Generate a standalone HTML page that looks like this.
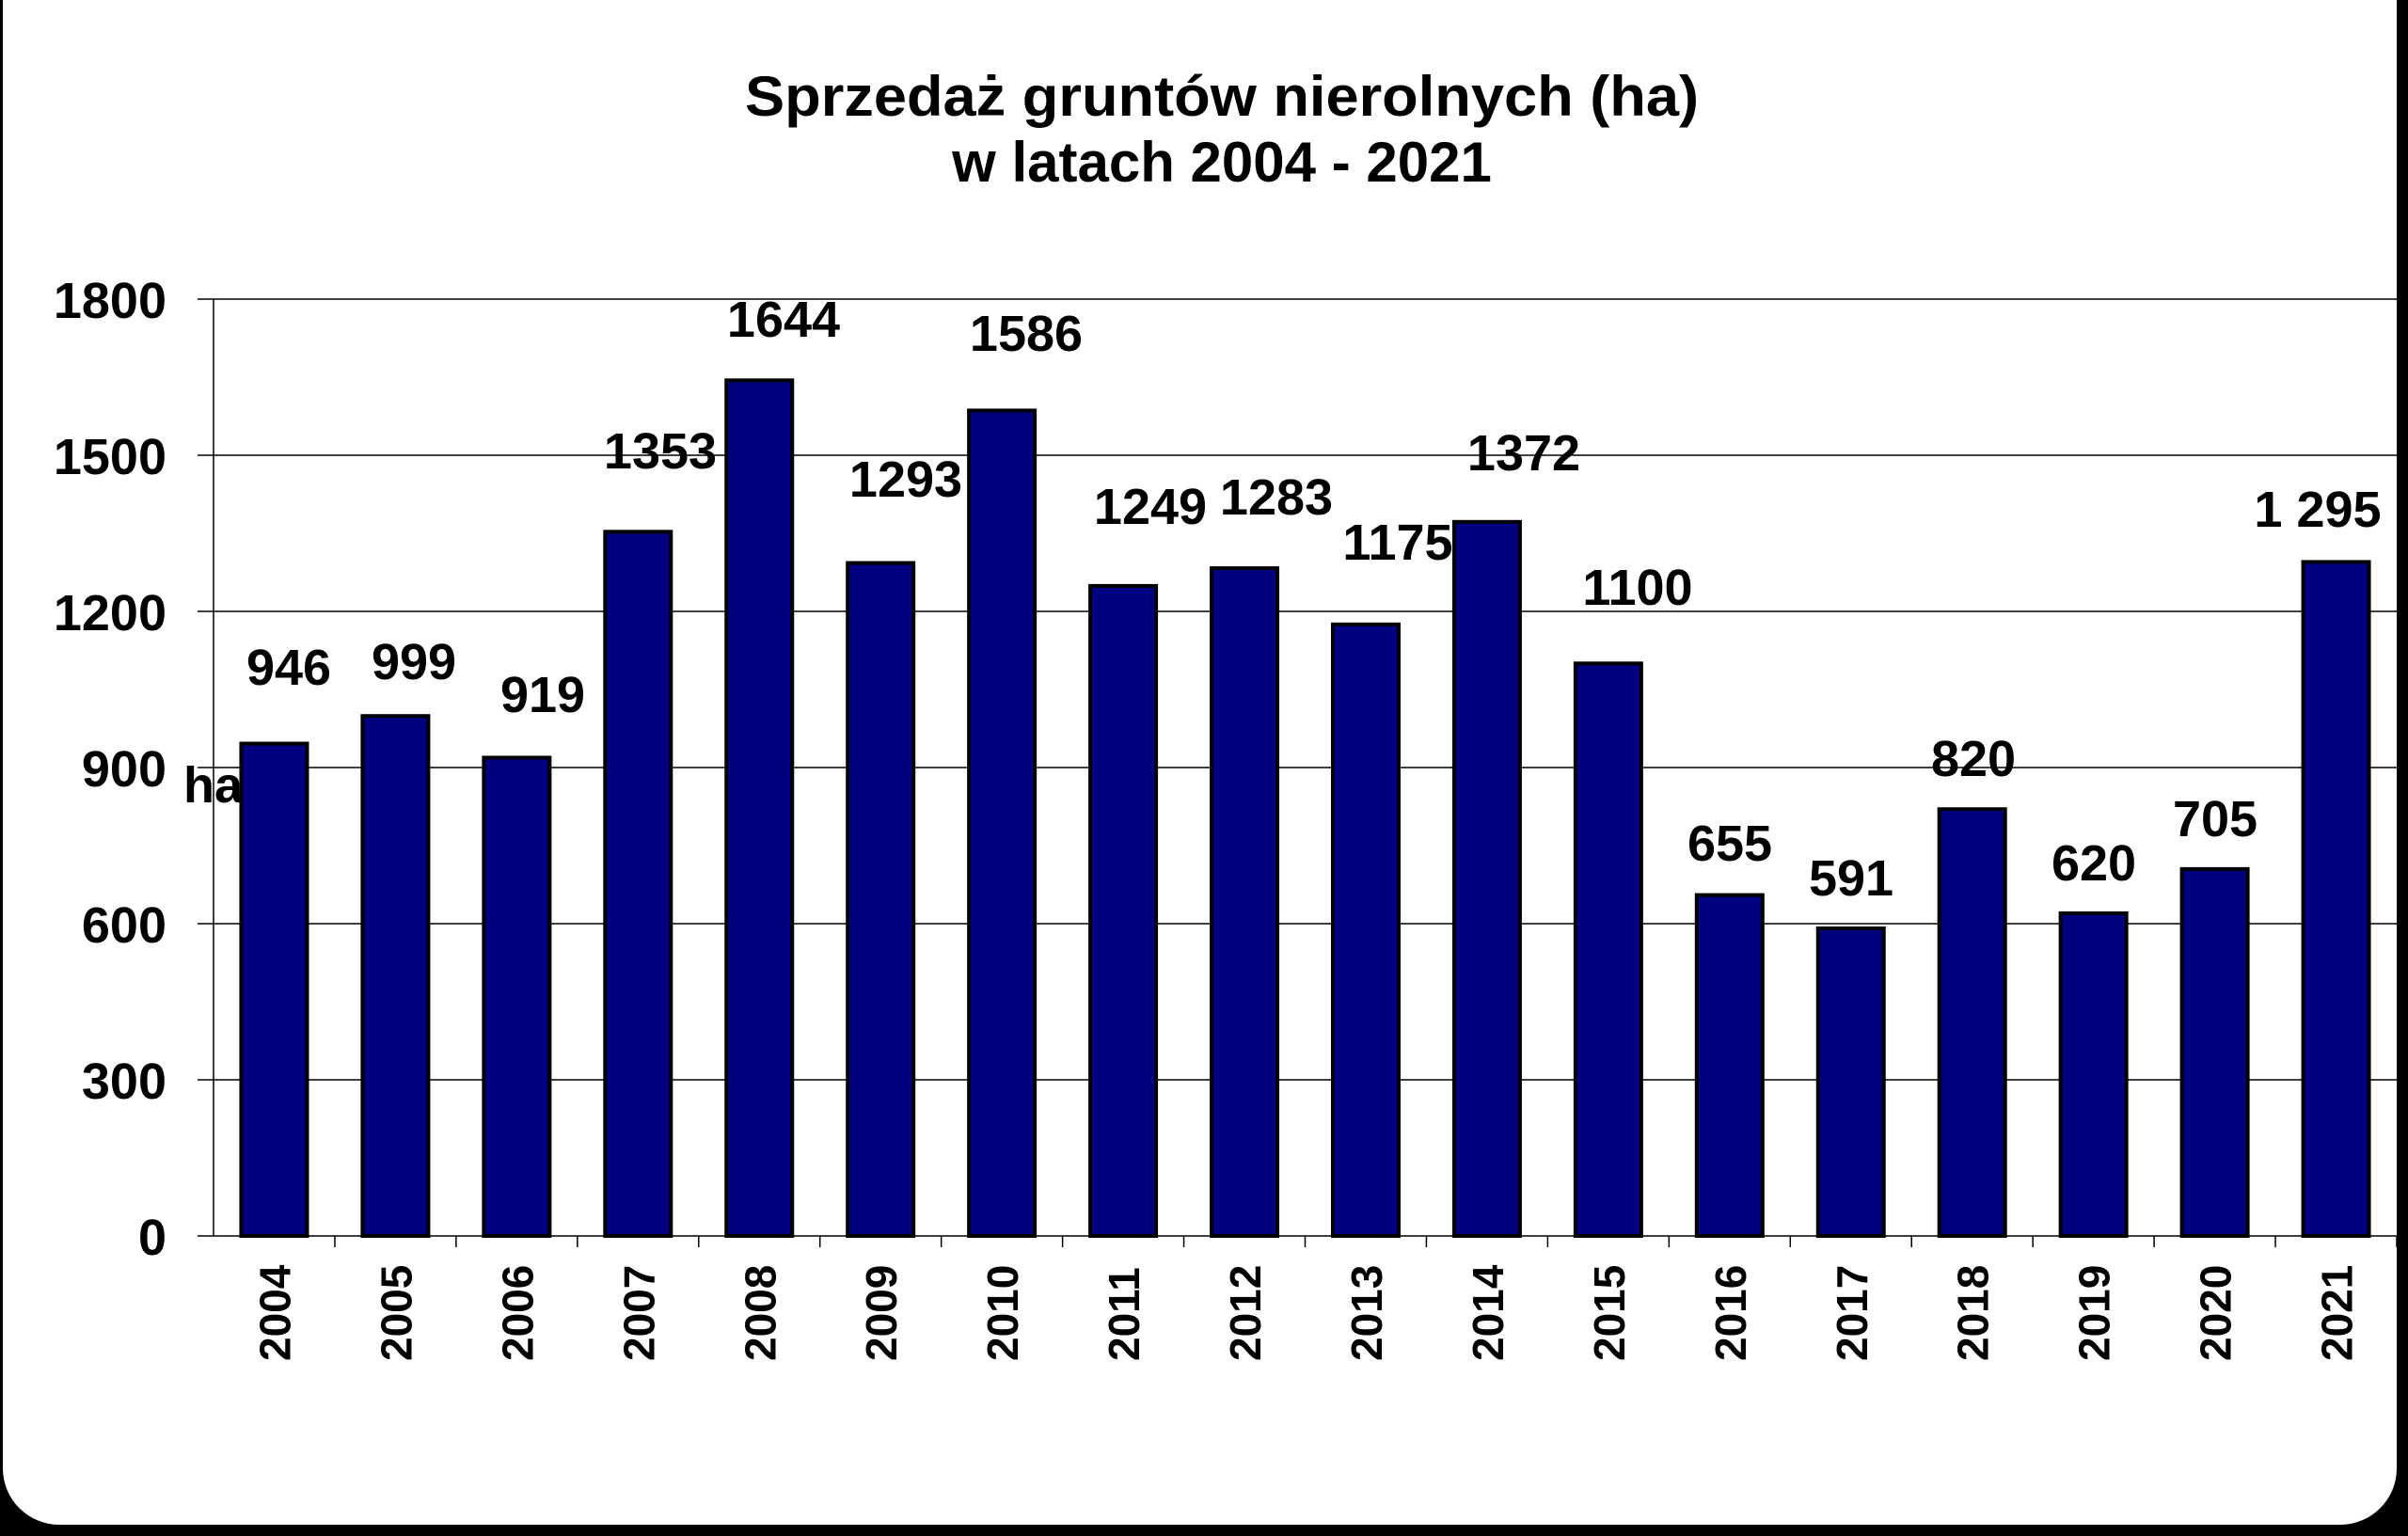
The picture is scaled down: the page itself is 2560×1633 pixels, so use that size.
<!DOCTYPE html>
<html><head><meta charset="utf-8"><style>
html,body{margin:0;padding:0;background:#000;}
svg{display:block}
text{font-family:"Liberation Sans",Arial,sans-serif;font-weight:bold;fill:#000}
</style></head><body>
<svg width="2560" height="1633" viewBox="0 0 2560 1633" xmlns="http://www.w3.org/2000/svg">
<rect x="0" y="0" width="2560" height="1633" fill="#000"/>
<rect x="3" y="-60" width="2545" height="1681" rx="60" ry="60" fill="#fff"/>
<text x="1299" y="123" font-size="60" text-anchor="middle" textLength="1014" lengthAdjust="spacingAndGlyphs">Sprzedaż gruntów nierolnych (ha)</text>
<text x="1299" y="193" font-size="60" text-anchor="middle">w latach 2004 - 2021</text>
<g stroke="#000" stroke-width="1.5">
<line x1="210" y1="318" x2="2548" y2="318"/>
<line x1="210" y1="484" x2="2548" y2="484"/>
<line x1="210" y1="650" x2="2548" y2="650"/>
<line x1="210" y1="816" x2="2548" y2="816"/>
<line x1="210" y1="982" x2="2548" y2="982"/>
<line x1="210" y1="1148" x2="2548" y2="1148"/>
<line x1="210" y1="1314" x2="2548" y2="1314"/>
<line x1="227" y1="318" x2="227" y2="1314"/>
</g>
<g font-size="54" text-anchor="end">
<text x="177" y="338">1800</text>
<text x="177" y="504">1500</text>
<text x="177" y="670">1200</text>
<text x="177" y="836">900</text>
<text x="177" y="1002">600</text>
<text x="177" y="1168">300</text>
<text x="177" y="1334">0</text>
</g>
<g id="bars" fill="#000080" stroke="#000" stroke-width="4"></g>
<g id="ticks" stroke="#000" stroke-width="1.5"></g>
<g id="years" font-size="46"></g>
<g id="labels" font-size="54" text-anchor="middle"></g>
<text x="195" y="853" font-size="54">ha</text>
</svg>
<script>
var vals=[946,999,919,1353,1644,1293,1586,1249,1283,1175,1372,1100,655,591,820,620,705,1295];
var lx=[307,440,577,702,833,963,1091,1223,1357,1486,1620,1741,1839,1968,2098,2226,2355,2464];
var ly=[728,722,757,498,358,528,373,557,547,595,500,643,915,952,825,936,889,560];
var txt=vals.map(String);txt[17]="1 295";
var ns="http://www.w3.org/2000/svg";
var cw=(2548-227)/18;
function el(n,a,p,t){var e=document.createElementNS(ns,n);for(var k in a)e.setAttribute(k,a[k]);if(t)e.textContent=t;document.getElementById(p).appendChild(e);}
for(var i=0;i<18;i++){
 var c=227+cw*(i+0.5);var h=vals[i]*166/300;
 el('rect',{x:c-35,y:1314-h,width:70,height:h},'bars');
 el('line',{x1:227+cw*(i+1),y1:1314,x2:227+cw*(i+1),y2:1326},'ticks');
 el('text',{x:0,y:0,transform:'translate('+(c+17)+',1447) rotate(-90)'},'years',String(2004+i));
 el('text',{x:lx[i],y:ly[i]},'labels',txt[i]);
}
</script>
</body></html>
